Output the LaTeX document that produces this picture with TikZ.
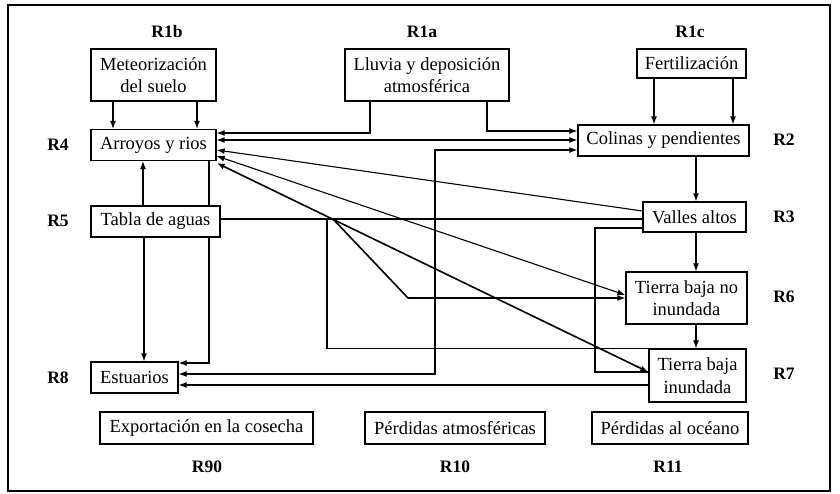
\documentclass[tikz,border=0pt]{standalone}
\usepackage{fontspec}
\setmainfont{Liberation Serif}
\usetikzlibrary{arrows.meta}
\pgfdeclarelayer{bg}
\pgfsetlayers{bg,main}
\begin{document}
\begin{tikzpicture}[x=1pt,y=-1pt,
  box/.style={draw, line width=1.3pt, fill=white, inner sep=0pt, align=center,
    font=\fontsize{18.5}{22.5}\selectfont},
  lab/.style={font=\bfseries\fontsize{17.5}{20}\selectfont},
  con/.style={line width=1.1pt, -{Latex[length=8pt,width=6pt]}},
  dcon/.style={line width=1.1pt, {Latex[length=8pt,width=6pt]}-{Latex[length=8pt,width=6pt]}},
  heavy/.style={line width=1.6pt},
  pl/.style={line width=1.1pt}
]
\useasboundingbox (0,0) rectangle (840,494);
\draw[line width=2pt] (8,5) rectangle (830,491);

% boxes
\node[box, minimum width=125pt, minimum height=52pt] (met) at (153.5,75) {Meteorización\\del suelo};
\node[box, minimum width=164pt, minimum height=52pt] (llu) at (427,75) {Lluvia y deposición\\atmosférica};
\node[box, minimum width=109pt, minimum height=29pt] (fer) at (691.5,63.5) {Fertilización};
\node[box, minimum width=125pt, minimum height=31pt] (arr) at (153.5,145) {Arroyos y rios};
\node[box, minimum width=171pt, minimum height=31pt] (col) at (663.5,140.5) {Colinas y pendientes};
\node[box, minimum width=103pt, minimum height=30pt] (val) at (694.5,217) {Valles altos};
\node[box, minimum width=129pt, minimum height=31pt] (tab) at (155.5,221.5) {Tabla de aguas};
\node[box, minimum width=121pt, minimum height=52pt] (tbn) at (686.5,298) {Tierra baja no\\inundada};
\node[box, minimum width=97pt, minimum height=53pt] (tbi) at (697.5,375.5) {Tierra baja\\inundada};
\node[box, minimum width=87pt, minimum height=31pt] (est) at (134.5,377.5) {Estuarios};
\node[box, minimum width=213pt, minimum height=32pt] (exp) at (206.5,428) {Exportación en la cosecha};
\node[box, minimum width=180pt, minimum height=32pt] (pat) at (455,428) {Pérdidas atmosféricas};
\node[box, minimum width=156pt, minimum height=32pt] (poc) at (670,428) {Pérdidas al océano};

% labels
\node[lab] (r1b) at (167,32) {R1b};
\node[lab] (r1a) at (422,32) {R1a};
\node[lab] (r1c) at (690,32) {R1c};
\node[lab] (r4) at (58,145) {R4};
\node[lab] (r5) at (58,221) {R5};
\node[lab] (r8) at (58,378) {R8};
\node[lab] (r2) at (784,140) {R2};
\node[lab] (r3) at (784,217) {R3};
\node[lab] (r6) at (784,297) {R6};
\node[lab] (r7) at (784,374) {R7};
\node[lab] (r90) at (207,467) {R90};
\node[lab] (r10) at (455,467) {R10};
\node[lab] (r11) at (668,467) {R11};

% bend points
\coordinate (kE) at (435,150);
\coordinate (kT) at (327,219);
\coordinate (kA) at (333,219);
\coordinate (kB) at (408,298);
\coordinate (kV) at (595,228);

\begin{pgfonlayer}{bg}
\draw[con] (met.south -| 113,0) -- (arr.north -| 113,0);
\draw[con] (met.south -| 197,0) -- (arr.north -| 197,0);
\draw[con] (llu.south -| 370,0) |- (arr.east |- 0,133);
\draw[con] (llu.south -| 487,0) |- (col.west |- 0,131);
\draw[con] (fer.south -| 654,0) -- (col.north -| 654,0);
\draw[con] (fer.south -| 733,0) -- (col.north -| 733,0);
\draw[dcon] (arr.east |- 0,140) -- (col.west |- 0,140);
\draw[dcon] (est.east |- 0,374) -| (kE) -- (col.west |- kE);
\draw[con] (val.west |- 0,211) -- (arr.east |- 0,150);
\draw[pl] (tab.east |- 0,219) -- (val.west |- 0,219);
\draw[pl] (kT) |- (tbi.north west);
\draw[heavy, line cap=round] (kA) -- (kB);
\draw[con] (kB) -- (tbn.west |- kB);
\draw[dcon, heavy] (arr.east |- 0,163) -- (tbi.west |- 0,372);
\draw[dcon] (arr.east |- 0,156) -- (tbn.west |- 0,295);
\draw[pl] (val.west |- kV) -- (kV) |- (tbi.west |- 0,372);
\draw[con] (col.south -| 696,0) -- (val.north -| 696,0);
\draw[con] (val.south -| 696,0) -- (tbn.north -| 696,0);
\draw[con] (tbn.south -| 696,0) -- (tbi.north -| 696,0);
\draw[con] (tbi.west |- 0,385) -- (est.east |- 0,385);
\draw[con] (arr.south -| 209,0) |- (est.east |- 0,363);
\draw[con] (tab.north -| 143,0) -- (arr.south -| 143,0);
\draw[con] (tab.south -| 144,0) -- (est.north -| 144,0);
\end{pgfonlayer}
\end{tikzpicture}
\end{document}
